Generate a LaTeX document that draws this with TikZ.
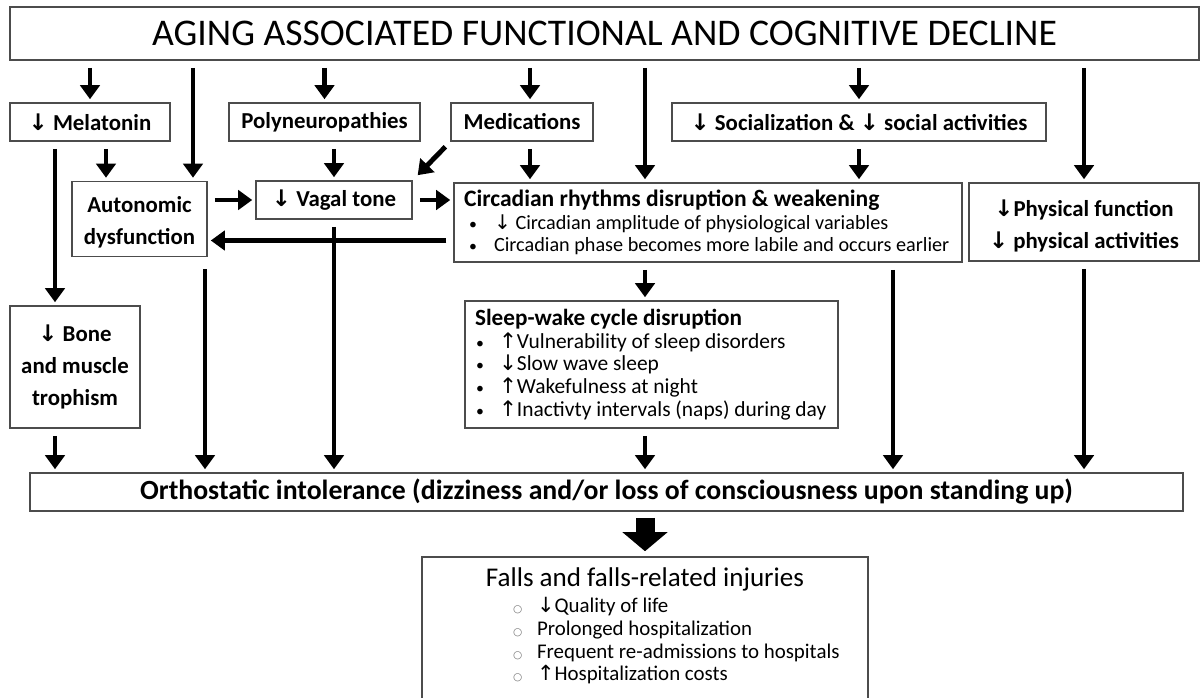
\documentclass[tikz,border=0pt]{standalone}
\usepackage{fontspec}
\setmainfont{Carlito}
\newfontfamily\symfont{DejaVu Sans}
\usetikzlibrary{arrows.meta}

\newcommand{\arrdn}{{\symfont\char"2193}}
\newcommand{\arrup}{{\symfont\char"2191}}
\newcommand{\dotbul}{{\fontsize{9}{9}\selectfont•}}
\newcommand{\circbul}{{\symfont\color{black!55}\fontsize{6}{6}\selectfont\char"25CB}}
\newcommand{\boxfont}{\fontsize{13}{18}\selectfont\bfseries}
\newcommand{\listfont}{\fontsize{11.5}{13}\selectfont}

\tikzset{
  box/.style={draw=black!70, line width=0.9pt, inner sep=0pt, align=center, font=\boxfont},
  listbox/.style={box, align=flush left, font=\listfont},
  arr/.style={line width=2.8pt, -{Triangle[length=8pt,width=11pt]},
    shorten <=0.14cm, shorten >=0.06cm},
  bigarr/.style={line width=0.38cm, -{Triangle[length=0.38cm,width=0.88cm]},
    shorten <=0.12cm, shorten >=0.1cm},
}

\begin{document}
\begin{tikzpicture}[x=0.02cm, y=-0.02cm]
    \useasboundingbox (0,0) rectangle (1200,697);

    % Header
    \node[box, font=\fontsize{21.45}{25}\selectfont, minimum width=23.78cm, minimum height=1.06cm]
        (title) at (604.5,33.5) {AGING ASSOCIATED FUNCTIONAL AND COGNITIVE DECLINE};

    % First row of causes
    \node[box, minimum width=3.2cm, minimum height=0.76cm] (mel) at (90,122) {\arrdn\ Melatonin};
    \node[box, minimum width=3.82cm, minimum height=0.76cm] (poly) at (324.5,122) {Polyneuropathies};
    \node[box, minimum width=2.84cm, minimum height=0.76cm] (med) at (522,122) {Medications};
    \node[box, minimum width=7.48cm, minimum height=0.76cm] (soc) at (859,122)
        {\arrdn\ Socialization \& \arrdn\ social activities};

    % Second row
    \node[box, minimum width=2.7cm, minimum height=1.5cm] (auto) at (139.5,219)
        {\rule{0pt}{12.5pt}Autonomic\\dysfunction};
    \node[box, minimum width=3.12cm, minimum height=0.76cm] (vagal) at (334,200) {\arrdn\ Vagal tone};
    \node[listbox, minimum width=10.16cm, minimum height=1.58cm, inner xsep=0.2cm, text width=9.76cm]
        (circ) at (708,222.5) {%
        {\bfseries\fontsize{13.4}{13.4}\selectfont Circadian rhythms disruption \& weakening}\\
        \hspace*{0.1cm}\makebox[0.5cm][l]{\dotbul}\arrdn\ Circadian amplitude of physiological variables\\
        \hspace*{0.1cm}\makebox[0.5cm][l]{\dotbul}Circadian phase becomes more labile and occurs earlier};
    \node[box, minimum width=4.6cm, minimum height=1.56cm, font=\fontsize{13}{18}\selectfont\bfseries]
        (phys) at (1084,222) {\rule{0pt}{14.3pt}\arrdn Physical function\\\arrdn\ physical activities};

    % Third row
    \node[box, minimum width=2.6cm, minimum height=2.44cm] (bone) at (75,367)
        {\arrdn\ Bone\\and muscle\\trophism};
    \node[listbox, minimum width=7.46cm, minimum height=2.54cm, inner xsep=0.2cm, text width=7.06cm,
        font=\fontsize{12.2}{12.9}\selectfont] (sleep) at (651.5,364.5) {%
        {\bfseries\fontsize{13.2}{13.2}\selectfont Sleep-wake cycle disruption}\\
        \hspace*{0.02cm}\makebox[0.46cm][l]{\dotbul}\arrup Vulnerability of sleep disorders\\
        \hspace*{0.02cm}\makebox[0.46cm][l]{\dotbul}\arrdn Slow wave sleep\\
        \hspace*{0.02cm}\makebox[0.46cm][l]{\dotbul}\arrup Wakefulness at night\\
        \hspace*{0.02cm}\makebox[0.46cm][l]{\dotbul}\arrup Inactivty intervals (naps) during day};

    % Outcome
    \node[box, minimum width=23.06cm, minimum height=0.76cm, font=\fontsize{15.8}{18}\selectfont\bfseries]
        (orth) at (606.5,492)
        {Orthostatic intolerance (dizziness and/or loss of consciousness upon standing up)};
    \node[listbox, minimum width=8.92cm, minimum height=3.14cm, text width=8.92cm,
        font=\fontsize{11.9}{13}\selectfont] (falls) at (645,635.5) {%
        \makebox[8.92cm]{\fontsize{15.4}{15.4}\selectfont Falls and falls-related injuries}\\[2pt]
        \hspace*{1.82cm}\makebox[0.48cm][l]{\circbul}\arrdn Quality of life\\
        \hspace*{1.82cm}\makebox[0.48cm][l]{\circbul}Prolonged hospitalization\\
        \hspace*{1.82cm}\makebox[0.48cm][l]{\circbul}Frequent re-admissions to hospitals\\
        \hspace*{1.82cm}\makebox[0.48cm][l]{\circbul}\arrup Hospitalization costs\\
        \mbox{}};

    % Column positions of the off-centre arrows
    \coordinate (xauto) at (193,0);
    \coordinate (xmel) at (106,0);
    \coordinate (xbone) at (55,0);
    \coordinate (xmed) at (530,0);
    \coordinate (xmid) at (645,0);
    \coordinate (xcirc) at (893,0);
    \coordinate (xaut2) at (205,0);
    \coordinate (cw) at ([yshift=-0.36cm]circ.west);

    % From the header
    \draw[arr] (title.south -| mel.north) -- (mel.north);
    \draw[arr] (title.south -| xauto) -- (auto.north -| xauto);
    \draw[arr] (title.south -| poly.north) -- (poly.north);
    \draw[arr] (title.south -| xmed) -- (med.north -| xmed);
    \draw[arr] (title.south -| xmid) -- (circ.north -| xmid);
    \draw[arr] (title.south -| soc.north) -- (soc.north);
    \draw[arr] (title.south -| phys.north) -- (phys.north);

    % Between the causes
    \draw[arr] (mel.south -| xmel) -- (auto.north -| xmel);
    \draw[arr] (mel.south -| xbone) -- (bone.north -| xbone);
    \draw[arr] (poly.south -| vagal.north) -- (vagal.north);
    \draw[arr, shorten >=0.14cm] (med.south west) -- (vagal.north east);
    \draw[arr] (med.south -| xmed) -- (circ.north -| xmed);
    \draw[arr] (soc.south) -- (soc.south |- circ.north);
    \draw[arr] (vagal.west -| auto.east) -- (vagal.west);
    \draw[arr] (vagal.east) -- (vagal.east -| circ.west);
    \draw[arr] (cw) -- (cw -| auto.east);
    \draw[arr] (circ.south -| xmid) -- (sleep.north -| xmid);

    % Into orthostatic intolerance
    \draw[arr] (bone.south -| xbone) -- (orth.north -| xbone);
    \draw[arr, shorten <=0.24cm] (auto.south -| xaut2) -- (orth.north -| xaut2);
    \draw[arr] (vagal.south) -- (vagal.south |- orth.north);
    \draw[arr] (sleep.south -| xmid) -- (orth.north -| xmid);
    \draw[arr] (circ.south -| xcirc) -- (orth.north -| xcirc);
    \draw[arr] (phys.south) -- (phys.south |- orth.north);

    % Consequence
    \draw[bigarr] (orth.south -| xmid) -- (falls.north -| xmid);
\end{tikzpicture}
\end{document}
